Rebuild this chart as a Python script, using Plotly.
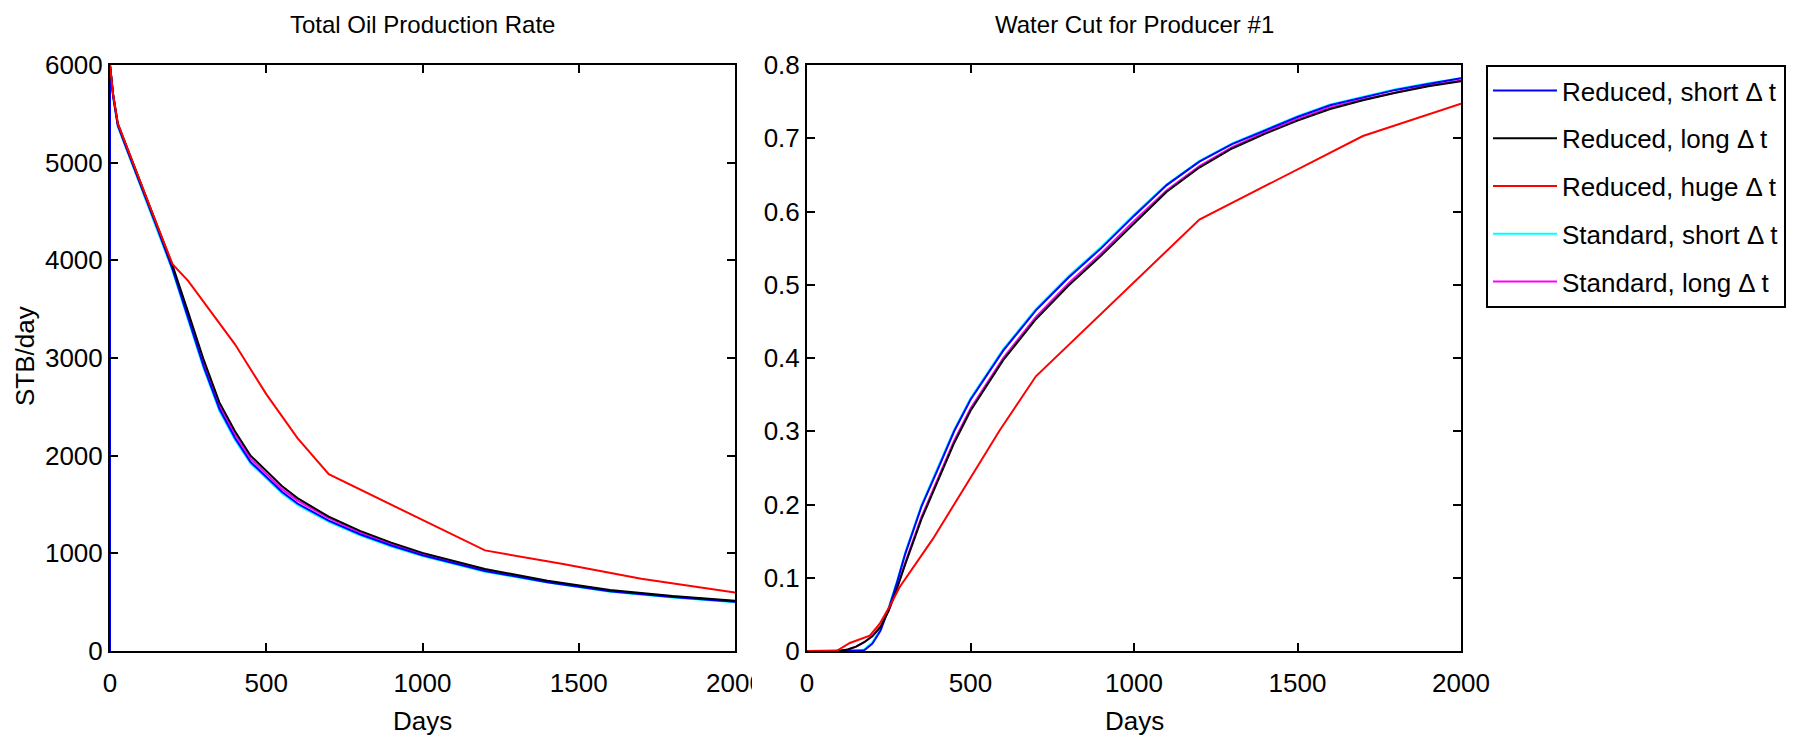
import plotly.graph_objects as go

# ---------------- data: Total Oil Production Rate (STB/day) ----------------
t_oil = [0, 10, 25, 50, 75, 100, 150, 200, 250, 300, 350, 400, 450, 500, 550,
         600, 700, 800, 900, 1000, 1200, 1400, 1600, 1800, 2000]
oil_red_long = [6000, 5700, 5400, 5190, 4985, 4780, 4365, 3950, 3470, 2980, 2545, 2250, 2000, 1850, 1690,
                1565, 1375, 1230, 1110, 1005, 840, 720, 625, 562, 515]
oil_red_short = [6000, 5680, 5380, 5170, 4965, 4760, 4340, 3910, 3410, 2910, 2480, 2180, 1935, 1780, 1630,
                 1510, 1335, 1195, 1080, 980, 820, 705, 612, 552, 505]
oil_std_short = [6000, 5670, 5370, 5160, 4955, 4750, 4330, 3895, 3390, 2890, 2460, 2160, 1920, 1765, 1615,
                 1495, 1322, 1185, 1070, 972, 812, 700, 606, 547, 500]
oil_std_long = [6000, 5690, 5390, 5180, 4975, 4770, 4355, 3935, 3445, 2950, 2515, 2220, 1970, 1815, 1660,
                1540, 1360, 1215, 1098, 995, 830, 712, 618, 557, 510]
t_oil_huge = [0, 10, 25, 50, 100, 150, 200, 250, 400, 500, 600, 700, 1200, 1450, 1700, 2000]
oil_red_huge = [6000, 5700, 5400, 5190, 4780, 4365, 3960, 3790, 3140, 2630, 2180, 1810, 1030, 890, 740, 598]

# ---------------- data: Water Cut for Producer #1 ----------------
t_wc = [0, 100, 125, 150, 175, 200, 225, 250, 275, 300, 350, 400, 450, 500, 600, 700, 800, 900,
        1000, 1100, 1200, 1300, 1400, 1500, 1600, 1700, 1800, 1900, 2000]
wc_red_short = [0, 0, 0, 0, 0.001, 0.010, 0.028, 0.058, 0.093, 0.132, 0.197, 0.248, 0.300, 0.343,
                0.410, 0.465, 0.510, 0.550, 0.594, 0.636, 0.668, 0.692, 0.711, 0.729, 0.745,
                0.756, 0.766, 0.774, 0.782]
wc_red_long = [0, 0, 0.002, 0.006, 0.012, 0.020, 0.033, 0.055, 0.085, 0.118, 0.180, 0.233, 0.284,
               0.328, 0.397, 0.453, 0.499, 0.540, 0.584, 0.627, 0.660, 0.686, 0.706, 0.724, 0.740,
               0.752, 0.762, 0.771, 0.778]
wc_std_short = [0, 0, 0, 0, 0.002, 0.012, 0.030, 0.060, 0.095, 0.134, 0.199, 0.250, 0.302, 0.345,
                0.412, 0.467, 0.512, 0.552, 0.596, 0.637, 0.669, 0.693, 0.712, 0.730, 0.746,
                0.757, 0.767, 0.775, 0.782]
wc_std_long = [0, 0, 0.002, 0.006, 0.012, 0.021, 0.034, 0.056, 0.086, 0.120, 0.183, 0.236, 0.287,
               0.331, 0.400, 0.456, 0.502, 0.543, 0.587, 0.629, 0.662, 0.688, 0.708, 0.726, 0.742,
               0.753, 0.763, 0.772, 0.779]
t_wc_huge = [0, 90, 131, 192, 222, 253, 283, 385, 487, 589, 700, 1200, 1700, 2000]
wc_red_huge = [0, 0, 0.011, 0.021, 0.037, 0.061, 0.087, 0.153, 0.227, 0.301, 0.375, 0.589, 0.703, 0.747]

names = ["Reduced, short \u0394 t", "Reduced, long \u0394 t", "Reduced, huge \u0394 t",
         "Standard, short \u0394 t", "Standard, long \u0394 t"]
colors = ["#0000FF", "#000000", "#FF0000", "#00FFFF", "#FF00FF"]

FONT = "Liberation Sans, Arial, Helvetica, sans-serif"
FS = 26

fig = go.Figure()

# (name index, oil t, oil q, wc t, wc values, starts at zero on the oil plot)
series = [
    (3, t_oil, oil_std_short, t_wc, wc_std_short, False),
    (4, t_oil, oil_std_long, t_wc, wc_std_long, True),
    (0, t_oil, oil_red_short, t_wc, wc_red_short, True),
    (1, t_oil, oil_red_long, t_wc, wc_red_long, False),
    (2, t_oil_huge, oil_red_huge, t_wc_huge, wc_red_huge, False),
]

for idx, to, qo, tw, ww, zero_start in series:
    xo = list(to)
    yo = list(qo)
    if zero_start:
        xo = [0] + xo
        yo = [0] + yo
    fig.add_trace(go.Scatter(x=xo, y=yo, mode="lines", name=names[idx],
                             line=dict(color=colors[idx], width=2),
                             xaxis="x", yaxis="y", showlegend=False,
                             legendgroup=names[idx], legendrank=idx + 1))
    fig.add_trace(go.Scatter(x=tw, y=ww, mode="lines", name=names[idx],
                             line=dict(color=colors[idx], width=2),
                             xaxis="x2", yaxis="y2", showlegend=True,
                             legendgroup=names[idx], legendrank=idx + 1))

axis_common = dict(showline=True, linecolor="black", linewidth=2, mirror="ticks",
                   ticks="inside", ticklen=8, tickwidth=2, tickcolor="black",
                   showgrid=False, zeroline=False, automargin=False,
                   tickfont=dict(family=FONT, size=FS, color="black"))

W, H = 1798, 740
fig.update_layout(
    width=W, height=H, autosize=False,
    margin=dict(l=0, r=0, t=0, b=0, pad=0, autoexpand=False),
    paper_bgcolor="white", plot_bgcolor="white",
    font=dict(family=FONT, size=FS, color="black"),
    xaxis=dict(domain=[110 / W, 735 / W], range=[0, 2000], tickvals=[0, 500, 1000, 1500, 2000],
               anchor="y", ticklabelstandoff=8, **axis_common),
    yaxis=dict(domain=[1 - 651 / H, 1 - 65 / H], range=[0, 6000], tickformat="d",
               tickvals=[0, 1000, 2000, 3000, 4000, 5000, 6000], anchor="x", **axis_common),
    xaxis2=dict(domain=[807 / W, 1461 / W], range=[0, 2000], tickvals=[0, 500, 1000, 1500, 2000],
                anchor="y2", ticklabelstandoff=8, **axis_common),
    yaxis2=dict(domain=[1 - 651 / H, 1 - 65 / H], range=[0, 0.8],
                tickvals=[0, 0.1, 0.2, 0.3, 0.4, 0.5, 0.6, 0.7, 0.8], anchor="x2", **axis_common),
    legend=dict(x=1486 / W, y=1 - 65 / H, xanchor="left", yanchor="top",
                bgcolor="white", bordercolor="black", borderwidth=2,
                font=dict(family=FONT, size=FS, color="black"),
                traceorder="grouped", tracegroupgap=11, itemwidth=64),
    showlegend=True,
    shapes=[dict(type="rect", xref="paper", yref="paper", layer="above",
                 x0=752 / W, x1=776 / W, y0=1 - 705 / H, y1=1 - 660 / H,
                 fillcolor="white", line=dict(width=0))],
)

annots = [
    dict(text="Total Oil Production Rate", x=422 / W, y=1 - 24 / H, size=24),
    dict(text="Water Cut for Producer #1", x=1134 / W, y=1 - 24 / H, size=24),
    dict(text="Days", x=422 / W, y=1 - 721 / H, size=FS),
    dict(text="Days", x=1134 / W, y=1 - 721 / H, size=FS),
]
for a in annots:
    fig.add_annotation(text=a["text"], x=a["x"], y=a["y"], xref="paper", yref="paper",
                       xanchor="center", yanchor="middle", showarrow=False,
                       font=dict(family=FONT, size=a["size"], color="black"))
fig.add_annotation(text="STB/day", x=25 / W, y=1 - 356 / H, xref="paper", yref="paper",
                   xanchor="center", yanchor="middle", showarrow=False, textangle=-90,
                   font=dict(family=FONT, size=FS, color="black"))

fig.write_html("out.html")
